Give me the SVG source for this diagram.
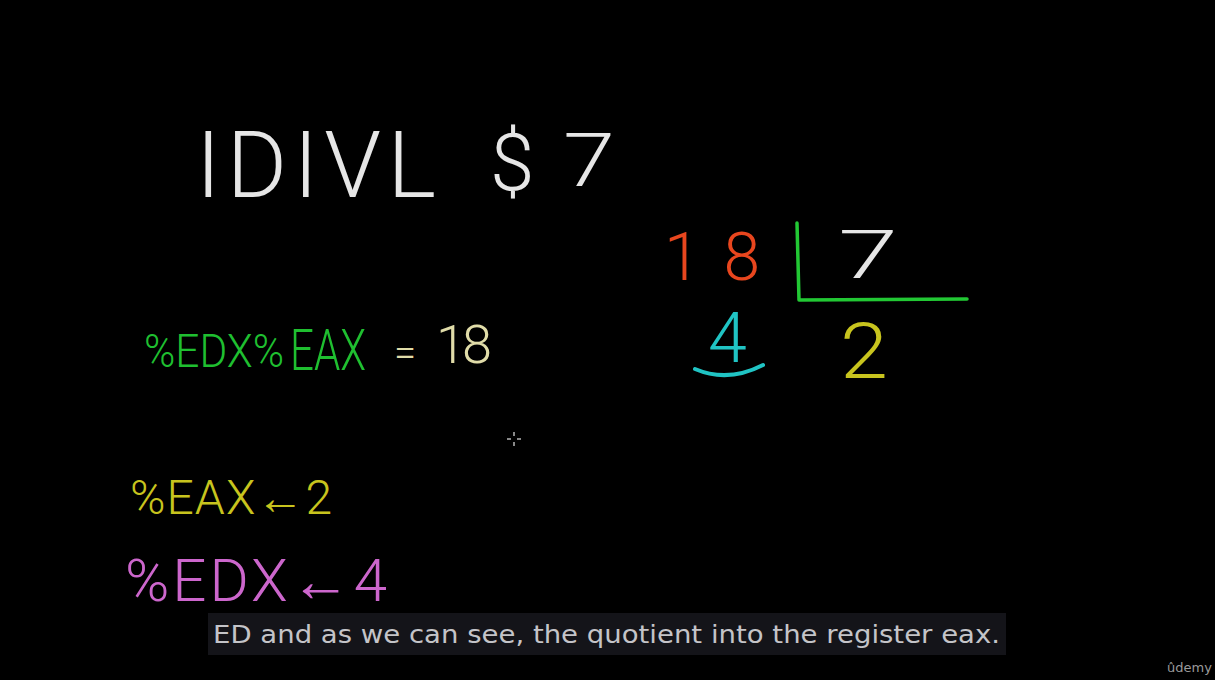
<svg xmlns="http://www.w3.org/2000/svg" width="1215" height="680" viewBox="0 0 1215 680">
<style>
.h{font-family:Roboto,"Liberation Sans",sans-serif;font-weight:300}
.sub{font-family:"DejaVu Sans","Liberation Sans",sans-serif;fill:#c4c4c8}
.ln{fill:none;stroke-linecap:round;stroke-linejoin:round}
</style>
<rect width="1215" height="680" fill="#000"/>
<g id="instruction">
<text class="h" x="196" y="197" font-size="92" fill="#e6e6e6" textLength="240" lengthAdjust="spacing">IDIVL</text>
<text class="h" x="490" y="190" font-size="80" fill="#e6e6e6">$</text>
<text class="h" x="563" y="186" font-size="74" fill="#e6e6e6" textLength="52" lengthAdjust="spacingAndGlyphs">7</text>
</g>
<g id="division">
<text class="h" x="664" y="280" font-size="66" fill="#e8461e" textLength="96" lengthAdjust="spacing">18</text>
<text class="h" x="838" y="278" font-size="66" fill="#e6e6e6" textLength="60" lengthAdjust="spacingAndGlyphs">7</text>
<path class="ln" d="M797 223 L799 300 L967 299" stroke="#22c834" stroke-width="3.5"/>
<text class="h" x="708" y="362" font-size="70" fill="#20c4c4">4</text>
<path class="ln" d="M695 369 Q728 383 763 365" stroke="#20c4c4" stroke-width="4"/>
<text class="h" x="840" y="378" font-size="78" fill="#c8c41e" textLength="48" lengthAdjust="spacingAndGlyphs">2</text>
</g>
<g id="edx-eax">
<text class="h" x="144" y="367" font-size="46" fill="#1fbf30" textLength="140" lengthAdjust="spacingAndGlyphs">%EDX%</text>
<text class="h" x="290" y="370" font-size="58" fill="#1fbf30" textLength="76" lengthAdjust="spacingAndGlyphs">EAX</text>
<text class="h" x="394" y="366" font-size="40" fill="#e0dca8">=</text>
<text class="h" x="436" y="363" font-size="54" fill="#e0dca8" textLength="56" lengthAdjust="spacing">18</text>
</g>
<g id="eax-result">
<text class="h" x="130" y="514" font-size="48" fill="#c8c41e" textLength="202" lengthAdjust="spacing">%EAX←2</text>
</g>
<g id="edx-result">
<text class="h" x="125" y="601" font-size="60" fill="#cc66cc" textLength="262" lengthAdjust="spacing">%EDX←4</text>
</g>
<g id="cursor" stroke="#888" stroke-width="2">
<line x1="514" y1="432" x2="514" y2="436"/>
<line x1="514" y1="442" x2="514" y2="446"/>
<line x1="507" y1="439" x2="511" y2="439"/>
<line x1="517" y1="439" x2="521" y2="439"/>
</g>
<g id="subtitle">
<rect x="208" y="613" width="798" height="42" fill="#141419"/>
<text class="sub" x="213" y="643" font-size="25" textLength="787" lengthAdjust="spacingAndGlyphs">ED and as we can see, the quotient into the register eax.</text>
</g>
<g id="logo">
<text x="1167" y="672" font-family="'DejaVu Sans',sans-serif" font-size="13" fill="#9a9a9a">ûdemy</text>
</g>
</svg>
